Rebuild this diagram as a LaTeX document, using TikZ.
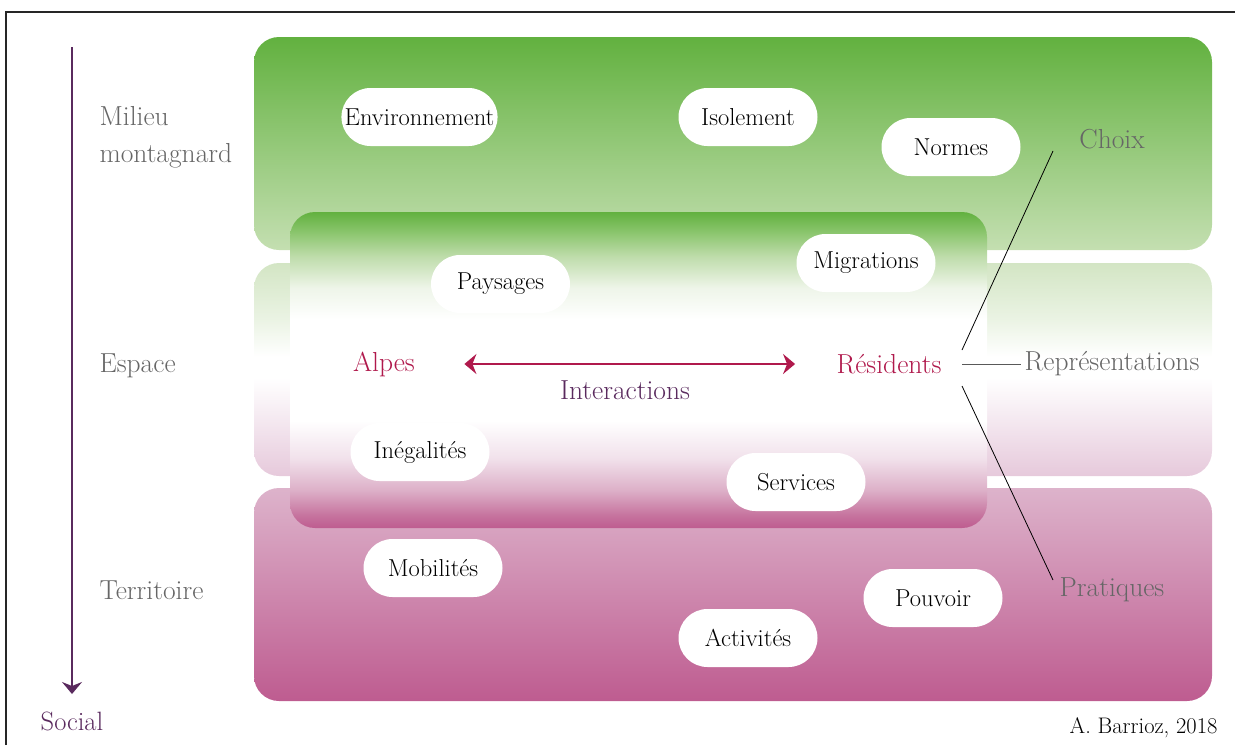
\documentclass[tikz,border=0pt]{standalone}
\usetikzlibrary{shapes.misc,arrows.meta}
\definecolor{gD}{HTML}{62B13F}
\definecolor{gA}{HTML}{88C46A}
\definecolor{gB}{HTML}{BEDCAA}
\definecolor{gC}{HTML}{EEF5E9}
\definecolor{gL}{HTML}{C4DFB1}
\definecolor{bandTop}{HTML}{D3E5C4}
\definecolor{bandG}{HTML}{EAF3E3}
\definecolor{bandP}{HTML}{F4E8F0}
\definecolor{bandBot}{HTML}{E6C9DB}
\definecolor{pkL}{HTML}{DDB3CB}
\definecolor{pkD}{HTML}{BE5C90}
\definecolor{pkA}{HTML}{C6739E}
\definecolor{pkB}{HTML}{DDB0C8}
\definecolor{pkC}{HTML}{F1E1EB}
\definecolor{labgray}{HTML}{666666}
\definecolor{purp}{HTML}{5A2A5E}
\definecolor{crim}{HTML}{B0194C}
\pgfdeclareverticalshading{innershade}{100bp}{color(0bp)=(pkD); color(25bp)=(pkD); color(27bp)=(pkA); color(31bp)=(pkB); color(36bp)=(pkC); color(42bp)=(white); color(58bp)=(white); color(63bp)=(gC); color(68bp)=(gB); color(72bp)=(gA); color(75bp)=(gD); color(100bp)=(gD)}
\pgfdeclareverticalshading{bandshade}{100bp}{color(0bp)=(bandBot); color(25bp)=(bandBot); color(38bp)=(bandP); color(48bp)=(white); color(53bp)=(white); color(62bp)=(bandG); color(75bp)=(bandTop); color(100bp)=(bandTop)}
\tikzset{
  lbl/.style={font=\fontsize{27.5}{37}\selectfont, text=labgray},
  pill/.style={rounded rectangle, fill=white, minimum width=143, minimum height=58, inner xsep=2, font=\fontsize{24.5}{28}\selectfont, text=black},
  conn/.style={line width=0.8pt, black},
  big/.style={font=\fontsize{27.5}{30}\selectfont},
  >={Stealth[length=12pt,width=20pt,inset=4pt]},
}
\begin{document}
\begin{tikzpicture}[x=1pt,y=-1pt]
\useasboundingbox (0,0) rectangle (1235,745);
% frame
\draw[line width=1.3pt, black!85] (6,745) -- (6,12) -- (1235,12);
% bands
\shade[top color=gD, bottom color=gL, rounded corners=25] (254,37) rectangle (1212,250);
\shade[shading=bandshade, rounded corners=25] (254,263) rectangle (1212,476);
\shade[top color=pkL, bottom color=pkD, rounded corners=25] (254,488) rectangle (1212,701);
% inner box
\shade[shading=innershade, rounded corners=25] (290,212) rectangle (987,528);
% pills
\node[pill] (env) at (419.5,117) {Environnement};
\node[pill] (iso) at (748,117) {Isolement};
\node[pill] (nor) at (951,147) {Normes};
\node[pill] (pay) at (500.5,284) {Paysages};
\node[pill] (mig) at (866,263) {Migrations};
\node[pill] (ine) at (420,452) {Inégalités};
\node[pill] (ser) at (796,482) {Services};
\node[pill] (mob) at (433,568) {Mobilités};
\node[pill] (pou) at (933,598) {Pouvoir};
\node[pill] (act) at (748,638) {Activités};
% left labels
\node[lbl, anchor=west, align=left] (milieu) at (96,137) {Milieu\\montagnard};
\node[lbl, anchor=west] (espace) at (96,366) {Espace};
\node[lbl, anchor=west] (terr) at (96,590) {Territoire};
\node[font=\fontsize{26.5}{30}\selectfont, text=purp] (social) at (72,721) {Social};
\coordinate (atop) at (72,47);
\coordinate (abot) at (72,694);
\draw[purp, line width=2pt, ->] (atop) -- (abot);
% center
\node[big, text=crim] (alpes) at (384,364) {Alpes};
\node[big, text=crim] (res) at (889,364) {Résidents};
\node[big, text=purp] (inter) at (625,390) {Interactions};
\draw[crim, line width=2pt, <->] ([xshift=46pt]alpes.east) -- ([xshift=-38pt]res.west);
% right labels
\node[lbl] (choix) at (1112,139) {Choix};
\node[lbl] (rep) at (1112,364) {Représentations};
\node[lbl] (prat) at (1112,590) {Pratiques};
\coordinate (r1) at (962,350);
\coordinate (r2) at (962,364);
\coordinate (r3) at (962,386);
\coordinate (c1) at (1053,151);
\coordinate (c3) at (1053,580);
\draw[conn] (r1) -- (c1);
\draw[line width=0.9pt, black!65] (r2) -- (rep.west);
\draw[conn] (r3) -- (c3);
% credit
\node[font=\fontsize{22.5}{26}\selectfont, text=black, anchor=east] (credit) at (1221,728) {A. Barrioz, 2018};
\end{tikzpicture}
\end{document}
